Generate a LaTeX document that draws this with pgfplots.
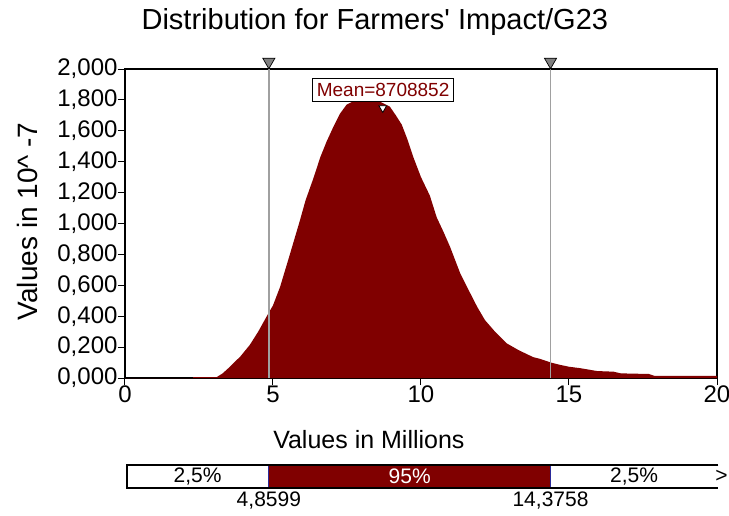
\documentclass[border=0pt]{standalone}
\usepackage{pgfplots}
\pgfplotsset{compat=1.18}
\usepackage{fontspec}
\setmainfont{Liberation Sans}
\definecolor{darkred}{HTML}{800000}
\definecolor{vgray}{HTML}{A0A0A0}
\definecolor{tgray}{HTML}{808080}
\definecolor{bblue}{HTML}{2A2A9A}

\begin{document}
\begin{tikzpicture}
\useasboundingbox (-125pt,-137pt) rectangle (604pt,378pt);
\begin{axis}[
  at={(0pt,0pt)}, anchor=south west,
  scale only axis, width=592pt, height=309pt,
  xmin=0, xmax=20, ymin=0, ymax=2,
  xtick={0,5,10,15,20}, xticklabels={0,5,10,15,20},
  ytick={0,0.2,0.4,0.6,0.8,1,1.2,1.4,1.6,1.8,2},
  yticklabels={{0,000},{0,200},{0,400},{0,600},{0,800},{1,000},{1,200},{1,400},{1,600},{1,800},{2,000}},
  xtick pos=bottom, ytick pos=left,
  tick align=outside, major tick length=7pt,
  tick style={black, line width=1pt},
  axis line style={black, line width=1.3pt},
  ticklabel style={font=\fontsize{24}{28}\selectfont},
  xticklabel style={yshift=3pt},
  yticklabel style={xshift=3pt},
  title={Distribution for Farmers\textquotesingle\ Impact/G23},
  title style={font=\fontsize{29}{34}\selectfont, at={(axis description cs:0.422,1)}, anchor=base, yshift=34pt},
  xlabel={Values in Millions},
  xlabel style={font=\fontsize{25}{30}\selectfont, at={(axis description cs:0.412,-0.2)}, anchor=center},
  ylabel={Values in 10\textasciicircum\ -7},
  ylabel style={font=\fontsize{28}{32}\selectfont, at={(axis description cs:-0.165,0.507)}, anchor=center},
  clip=false,
]
\addplot[fill=darkred, draw=none] coordinates {
(0,0) (2.3,0) (2.3,0.006) (3.1,0.006) (3.3,0.03) (3.5,0.065) (3.66,0.095) (3.9,0.14)
(4.22,0.215) (4.5,0.30) (4.79,0.40) (5.0,0.47) (5.24,0.59) (5.57,0.80) (5.91,1.02)
(6.1,1.15) (6.36,1.29) (6.6,1.43) (6.81,1.53) (7.05,1.63) (7.26,1.71) (7.49,1.77)
(7.7,1.79) (8.0,1.80) (8.3,1.80) (8.6,1.79) (8.95,1.756) (9.15,1.70) (9.35,1.64)
(9.55,1.54) (9.74,1.43) (10.0,1.30) (10.30,1.18) (10.53,1.04) (10.75,0.95) (10.98,0.85)
(11.32,0.68) (11.66,0.55) (11.9,0.46) (12.16,0.375) (12.5,0.30) (12.89,0.225) (13.3,0.18)
(13.79,0.135) (14.0,0.125) (14.39,0.10) (14.7,0.085) (15.0,0.073) (15.4,0.063) (15.95,0.045)
(16.5,0.041) (16.75,0.03) (17.7,0.026) (17.9,0.013) (20,0.013) (20,0)
} -- cycle;
\addplot[vgray, line width=1.6pt] coordinates {(4.8599,0) (4.8599,2)};
\addplot[vgray, line width=1.6pt] coordinates {(14.3758,0) (14.3758,2)};
\addplot[only marks, mark=triangle*, mark size=7pt,
  mark options={rotate=180, fill=tgray, draw=black, line width=0.7pt}]
  coordinates {(4.8599,2.047) (14.3758,2.047)};
\node[draw=black, fill=white, text=darkred, line width=1.1pt, inner xsep=4pt, inner ysep=5pt,
  font=\fontsize{19}{21}\selectfont] at (axis cs:8.72,1.864) {Mean=8708852};
\addplot[only marks, mark=triangle*, mark size=4.5pt,
  mark options={rotate=180, fill=white, draw=black, line width=0.8pt}]
  coordinates {(8.708852,1.748)};
\end{axis}

\begin{axis}[
  at={(0pt,-110pt)}, anchor=south west,
  scale only axis, width=592pt, height=23pt,
  xmin=0, xmax=20, ymin=0, ymax=1,
  hide axis, clip=false,
]
\addplot[fill=darkred, draw=none] coordinates {(4.8599,0) (14.3758,0) (14.3758,1) (4.8599,1)} -- cycle;
\addplot[bblue, line width=1.2pt] coordinates {(4.8599,0) (4.8599,1)};
\addplot[bblue, line width=1.2pt] coordinates {(14.3758,0) (14.3758,1)};
\addplot[black, line width=1.3pt] coordinates {(20.05,1) (0.07,1) (0.07,0) (20.05,0)};
\node[font=\fontsize{21}{24}\selectfont] at (axis cs:2.45,0.5) {2,5\%};
\node[font=\fontsize{21}{24}\selectfont, text=white] at (axis cs:9.62,0.5) {95\%};
\node[font=\fontsize{21}{24}\selectfont] at (axis cs:17.2,0.5) {2,5\%};
\node[font=\fontsize{21}{24}\selectfont] at (axis cs:20.15,0.5) {>};
\node[font=\fontsize{21}{24}\selectfont, anchor=north, inner sep=2pt, yshift=-2pt] at (axis cs:4.8599,0) {4,8599};
\node[font=\fontsize{21}{24}\selectfont, anchor=north, inner sep=2pt, yshift=-2pt] at (axis cs:14.3758,0) {14,3758};
\end{axis}
\end{tikzpicture}
\end{document}
